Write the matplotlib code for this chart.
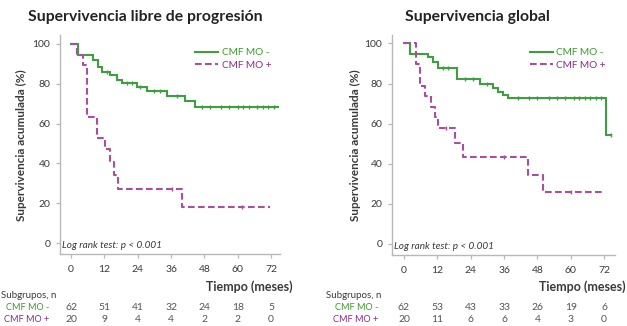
import matplotlib
matplotlib.use("Agg")
import matplotlib.pyplot as plt
import matplotlib.transforms as mtransforms

# ---- data -------------------------------------------------------------
titles = ["Supervivencia libre de progresión", "Supervivencia global"]
group_labels = ["CMF MO -", "CMF MO +"]
xticks = [0, 12, 24, 36, 48, 60, 72]
yticks = [0, 20, 40, 60, 80, 100]

# Progression-free survival
pfs_neg_t = [0, 2.5, 8, 9.8, 11, 14, 16.4, 18.2, 23.6, 27.2, 34.4, 41, 44.6]
pfs_neg_s = [100, 94.5, 92, 88.5, 86, 84.4, 82, 80.3, 78.3, 76.5, 74, 71.5, 68.2]
pfs_neg_end = 74.5
pfs_neg_cens = [13, 20, 22, 25, 30, 32, 38, 47, 50, 54, 57, 60, 62, 64, 67, 69, 71, 73]

pfs_pos_t = [0, 2.2, 4.2, 5.9, 9.5, 12.2, 14, 15.5, 17, 39.8]
pfs_pos_s = [100, 94.7, 89.5, 63.2, 52.6, 47.4, 40.8, 34.2, 27.2, 18.1]
pfs_pos_end = 71.5
pfs_pos_cens = [36.5, 61.5]

# Overall survival
os_neg_t = [0, 2.0, 8.6, 10.4, 12.3, 18.9, 27.3, 32, 33.8, 35.6, 37.4, 72.8]
os_neg_s = [100, 94.6, 93.3, 90.8, 87.8, 82.2, 80, 78, 76, 74.5, 72.7, 54.5]
os_neg_end = 74.6
os_neg_cens = [14, 16, 22, 25, 30, 41, 45, 48, 52, 55, 58, 61, 63, 65, 67, 69, 71, 74.6]

os_pos_t = [0, 4.3, 5.8, 7.6, 9.9, 11, 12.3, 18.3, 21.3, 44.7, 50]
os_pos_s = [100, 89.5, 78.9, 73.7, 68.4, 63.2, 57.6, 50.4, 43.2, 34.5, 25.9]
os_pos_end = 71.6
os_pos_cens = [15, 36, 60]

# numbers at risk
pfs_risk_neg = [62, 51, 41, 32, 24, 18, 5]
pfs_risk_pos = [20, 9, 4, 4, 2, 2, 0]
os_risk_neg = [62, 53, 43, 33, 26, 19, 6]
os_risk_pos = [20, 11, 6, 6, 4, 3, 0]

# ---- style ------------------------------------------------------------
GREEN = "#3f9e3f"
GREEN_TXT = "#3a9a2a"
MAG = "#a8509e"
MAG_TXT = "#8a2a86"
AXIS = "#b8b8b8"
TXT = "#3a3a3a"
FONT = "Lato"

W, H = 627, 326
fig = plt.figure(figsize=(W / 100, H / 100), dpi=100)
fig.patch.set_facecolor("white")


def px_axes(left, top, right, bottom):
    return fig.add_axes([left / W, 1 - bottom / H, (right - left) / W, (bottom - top) / H])


def step_xy(t, s, end):
    xs, ys = [], []
    for i in range(len(t)):
        if i > 0:
            xs.append(t[i]); ys.append(s[i - 1])
        xs.append(t[i]); ys.append(s[i])
    xs.append(end); ys.append(s[-1])
    return xs, ys


def surv_at(t, s, x):
    v = s[0]
    for ti, si in zip(t, s):
        if x >= ti:
            v = si
    return v


def draw_curve(ax, t, s, end, cens, color, ls, label):
    xs, ys = step_xy(t, s, end)
    if ls == "solid":
        ax.plot(xs, ys, color=color, lw=1.5, solid_joinstyle="miter", label=label)
    else:
        ax.plot(xs, ys, color=color, lw=1.5, ls=(0, (3.2, 1.6)), label=label)
    cy = [surv_at(t, s, c) for c in cens]
    ax.plot(cens, cy, ls="none", marker="|", ms=3.5, mew=1.0, color=color)


panels = [
    dict(box=(60, 35, 280, 254), xlim=(-3.96, 75.2), ylim=(-5.5, 104.5),
         neg=(pfs_neg_t, pfs_neg_s, pfs_neg_end, pfs_neg_cens),
         pos=(pfs_pos_t, pfs_pos_s, pfs_pos_end, pfs_pos_cens),
         risk=(pfs_risk_neg, pfs_risk_pos),
         title_x=145, ylab_x=21, lab_right=49, sub_left=1, tiempo_right=293),
    dict(box=(392, 35, 615, 255), xlim=(-4.3, 75.9), ylim=(-5.5, 104.2),
         neg=(os_neg_t, os_neg_s, os_neg_end, os_neg_cens),
         pos=(os_pos_t, os_pos_s, os_pos_end, os_pos_cens),
         risk=(os_risk_neg, os_risk_pos),
         title_x=477, ylab_x=355, lab_right=378, sub_left=326, tiempo_right=626),
]

for i, p in enumerate(panels):
    ax = px_axes(*p["box"])
    ax.set_xlim(*p["xlim"])
    ax.set_ylim(*p["ylim"])
    for side in ("top", "right"):
        ax.spines[side].set_visible(False)
    for side in ("left", "bottom"):
        ax.spines[side].set_color(AXIS)
        ax.spines[side].set_linewidth(1.0)
    ax.set_xticks(xticks)
    ax.set_yticks(yticks)
    ax.tick_params(axis="both", colors=AXIS, length=3, width=0.9, labelcolor=TXT,
                   labelsize=7.5, pad=4)
    for lab in ax.get_xticklabels() + ax.get_yticklabels():
        lab.set_family(FONT)
    ax.tick_params(axis="x", pad=5)

    draw_curve(ax, *p["neg"], GREEN, "solid", group_labels[0])
    draw_curve(ax, *p["pos"], MAG, "dashed", group_labels[1])

    leg = ax.legend(loc="upper right", bbox_to_anchor=(1.0, 0.98), frameon=False,
                    handlelength=2.3, handletextpad=0.4, labelspacing=0.35,
                    prop={"family": FONT, "size": 7.2})
    for txt, col in zip(leg.get_texts(), (GREEN_TXT, MAG_TXT)):
        txt.set_color(col)

    ax.text(0.01, 0.02, "Log rank test: p < 0.001", transform=ax.transAxes,
            fontsize=7.2, style="italic", color=TXT, family=FONT, va="bottom", ha="left")

    fig.text(p["title_x"] / W, 1 - 17 / H, titles[i], fontsize=11.3, fontweight="bold",
             family=FONT, color="#222222", ha="center", va="center")
    fig.text(p["ylab_x"] / W, 1 - 145 / H, "Supervivencia acumulada (%)", rotation=90,
             fontsize=8.5, fontweight="bold", family=FONT, color=TXT,
             ha="center", va="center")
    fig.text(p["tiempo_right"] / W, 1 - 287 / H, "Tiempo (meses)", fontsize=9,
             fontweight="bold", family=FONT, color=TXT, ha="right", va="center")
    fig.text(p["sub_left"] / W, 1 - 296 / H, "Subgrupos, n", fontsize=7,
             family=FONT, color=TXT, ha="left", va="center")

    trans = mtransforms.blended_transform_factory(ax.transData, fig.transFigure)
    rows_y = [1 - 308 / H, 1 - 320 / H]
    for r, (vals, col) in enumerate(zip(p["risk"], (GREEN_TXT, MAG_TXT))):
        fig.text(p["lab_right"] / W, rows_y[r], group_labels[r], fontsize=6.6,
                 family=FONT, color=col, ha="right", va="center")
        for xv, n in zip(xticks, vals):
            fig.text(xv, rows_y[r], str(n), transform=trans, fontsize=7.5,
                     family=FONT, color="#555555", ha="center", va="center")

fig.savefig("out.png", dpi=100, facecolor="white")
